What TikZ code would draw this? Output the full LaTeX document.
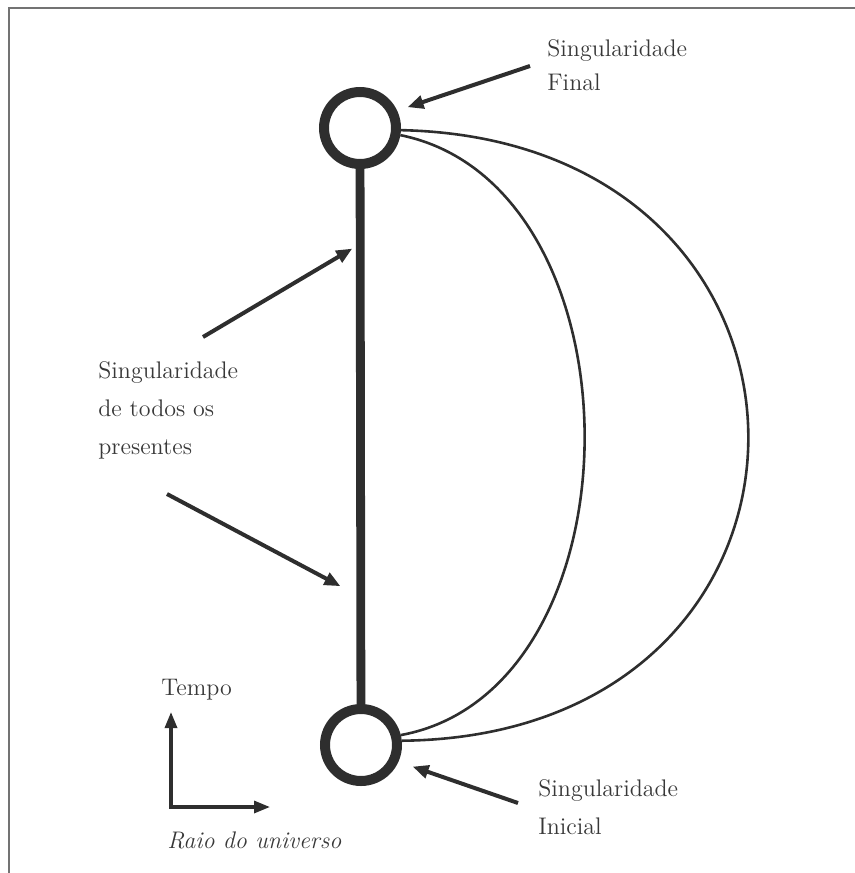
\documentclass[tikz,border=0pt]{standalone}
\usepackage{xcolor}
\usepackage{tikz}
\usetikzlibrary{arrows.meta,positioning}

\begin{document}
\begin{tikzpicture}[
  x=0.5pt, y=-0.5pt,
  ink/.style={draw=black!82},
  sing/.style={ink, circle, line width=5pt, minimum size=36pt, inner sep=0pt},
  bar/.style={ink, line width=4.4pt},
  world/.style={ink, line width=1.3pt},
  pointer/.style={ink, line width=2pt, -{Triangle[length=8pt,width=6.5pt]}},
  axis/.style={ink, line width=1.6pt, {Triangle[length=8pt,width=6pt]}-{Triangle[length=8pt,width=6pt]}},
  label/.style={text=black!78, align=left, inner sep=0pt, font=\fontsize{12}{19}\selectfont}
]
\useasboundingbox (0,0) rectangle (855,873);
% frame
\draw[black!55, line width=1pt] (9,873) -- (9,8) -- (855,8);

% singularities and the vertical line
\node[sing] (fin) at (360,128) {};
\node[sing] (ini) at (361,745) {};
\draw[bar] (fin) -- (ini);
\path (fin) -- (ini) coordinate[pos=0.14] (bartop) coordinate[pos=0.80] (barbot);

% closed universes
\draw[world] (fin.-10) .. controls (646,185) and (646,690) .. (ini.14);
\draw[world] (fin.-3) .. controls (864,140) and (864,736) .. (ini.6);

% labels
\node[label, anchor=west, font=\fontsize{12}{17}\selectfont] (finlab) at (547,65) {Singularidade\\Final};
\node[label, anchor=west] (prslab) at (98,410) {Singularidade\\de todos os\\presentes};
\node[label, anchor=west] (inilab) at (538,807) {Singularidade\\Inicial};
\node[label, anchor=west] (tlab) at (161,690) {Tempo};
\node[label, anchor=west, font=\fontsize{12}{19}\selectfont\itshape] (rlab) at (167,840) {Raio do universo};

% pointers
\coordinate (pfin) at (530,66);
\coordinate (pup) at (203,337);
\coordinate (pdown) at (167,494);
\coordinate (pini) at (518,803);
\draw[pointer, shorten >=5.5pt] (pfin) -- (fin.25);
\draw[pointer, shorten >=4.6pt] (pup) -- (bartop);
\draw[pointer, shorten >=11.5pt] (pdown) -- (barbot);
\draw[pointer, shorten >=7.5pt] (pini) -- (ini.-24);

% axes
\coordinate (tup) at (171,712);
\coordinate (rright) at (270,807);
\draw[axis] (tup) |- (rright);
\end{tikzpicture}
\end{document}
